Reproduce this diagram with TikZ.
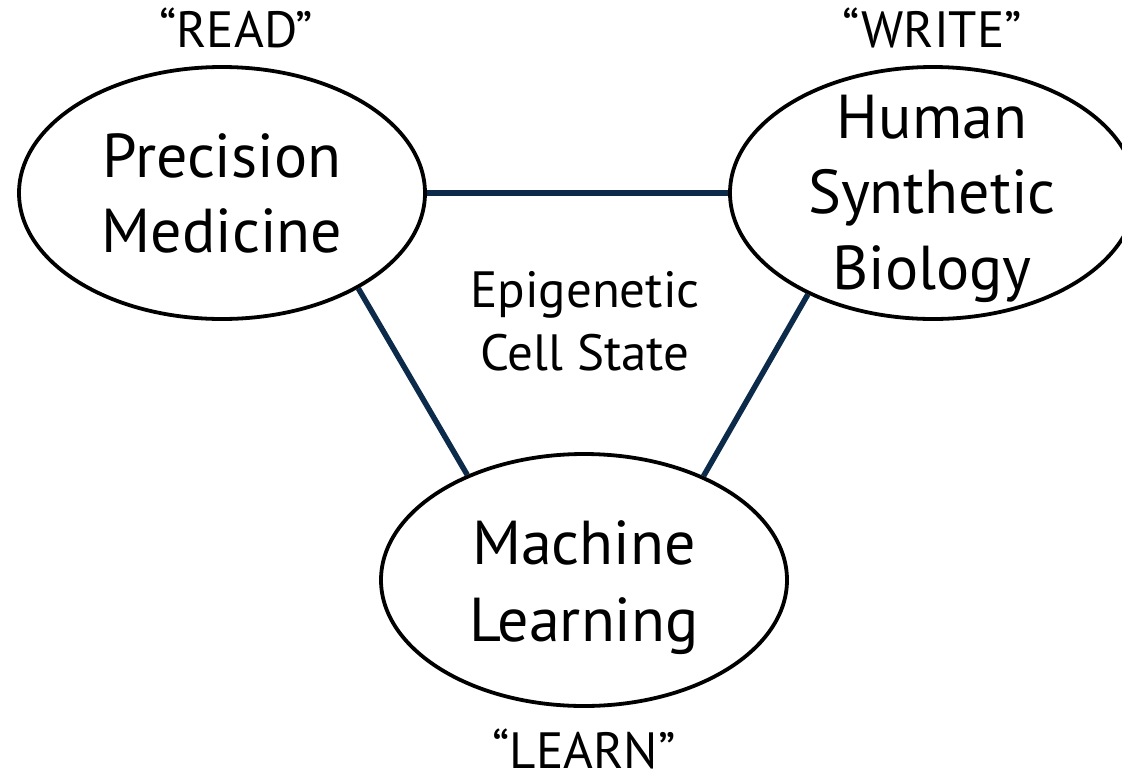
\documentclass[tikz,border=0pt]{standalone}
\usepackage{fontspec}
\setmainfont{PT Sans}
\usetikzlibrary{shapes.geometric}
\definecolor{linknavy}{RGB}{12,42,74}
\tikzset{
  area/.style={ellipse, draw=black, line width=3.8pt, minimum width=406pt,
    minimum height=252pt, inner sep=0pt},
  link/.style={draw=linknavy, line width=5.5pt},
  bigtxt/.style={anchor=base, inner sep=0pt, font=\fontsize{62}{74}\selectfont},
  midtxt/.style={anchor=base, inner sep=0pt, font=\fontsize{51}{60}\selectfont},
}
\begin{document}
\begin{tikzpicture}[x=1pt, y=-1pt]
  \useasboundingbox (0,0) rectangle (1122,777);

  % the three fields
  \node[area] (pm)  at (222,193) {};
  \node[area] (hsb) at (933,193) {};
  \node[area] (ml)  at (584,580) {};

  % links between them
  \draw[link] (pm.east) -- (hsb.west);
  \draw[link] (pm.-35.7) -- (ml.138.9);
  \draw[link] (hsb.-141.6) -- (ml.41.4);

  % field names
  \node[bigtxt] (pm1)  at (222,177) {Precision};
  \node[bigtxt] (pm2)  at (222,252) {Medicine};
  \node[bigtxt] (hsb1) at (932,138) {Human};
  \node[bigtxt] (hsb2) at (932,213) {Synthetic};
  \node[bigtxt] (hsb3) at (932,289) {Biology};
  \node[bigtxt] (ml1)  at (584,564) {Machine};
  \node[bigtxt] (ml2)  at (584,641) {Learning};

  % centre label
  \node[midtxt] (ecs1) at (585,307) {Epigenetic};
  \node[midtxt] (ecs2) at (585,370) {Cell State};

  % roles
  \node[midtxt] (read)  at (236,47)  {“READ”};
  \node[midtxt] (write) at (932,47)  {“WRITE”};
  \node[midtxt, text depth=0pt] (learn) at (584,768) {“LEARN”};
\end{tikzpicture}
\end{document}
